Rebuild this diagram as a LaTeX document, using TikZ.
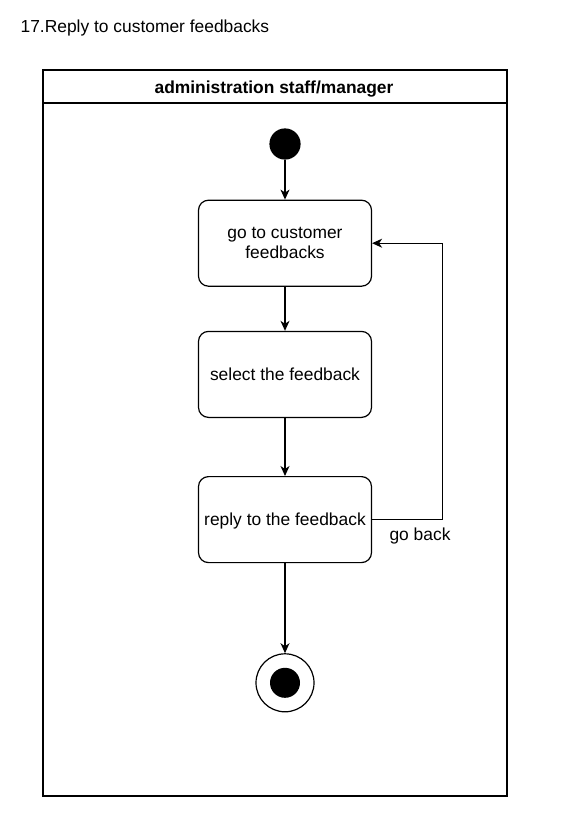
\documentclass[tikz,border=0pt]{standalone}
\usepackage{fontspec}
\setmainfont{Liberation Sans}
\usetikzlibrary{positioning,arrows.meta}
\begin{document}
\begin{tikzpicture}[x=1pt, y=-1pt, line width=1.2pt, font=\fontsize{17.4}{20}\selectfont,
    activity/.style = {draw, rounded corners=10pt, minimum width=173pt, minimum height=86pt, align=center, text depth=0pt},
    flow/.style = {-{Stealth[length=10pt, width=9pt, inset=3pt]}}]
    \useasboundingbox (0,0) rectangle (576,821);
    \node[anchor=west, inner sep=0pt] (title) at (20,28) {17.Reply to customer feedbacks};
    % swimlane
    \draw (43,70) rectangle (507,796);
    \draw (43,103) -- (507,103);
    \node[font=\fontsize{17.4}{20}\selectfont\bfseries] (lane) at (274,89) {administration staff/manager};
    % states
    \node[draw, circle, fill=black, minimum size=30pt, inner sep=0pt] (start) at (285,144) {};
    \node[activity, below=40pt of start] (goto) {go to customer\\feedbacks};
    \node[activity, below=44pt of goto] (select) {select the feedback};
    \node[activity, below=58pt of select] (reply) {reply to the feedback};
    \node[draw, circle, minimum size=58pt, inner sep=0pt, below=90pt of reply] (end) {};
    \node[circle, fill=black, minimum size=30pt, inner sep=0pt] (endin) at (end) {};
    \draw[flow] (start) -- (goto);
    \draw[flow] (goto) -- (select);
    \draw[flow] (select) -- (reply);
    \draw[flow] (reply) -- (end);
    \draw[flow] (reply.east) -- ++(70,0) |- (goto.east);
    \node (goback) at (420,536) {go back};
\end{tikzpicture}
\end{document}
